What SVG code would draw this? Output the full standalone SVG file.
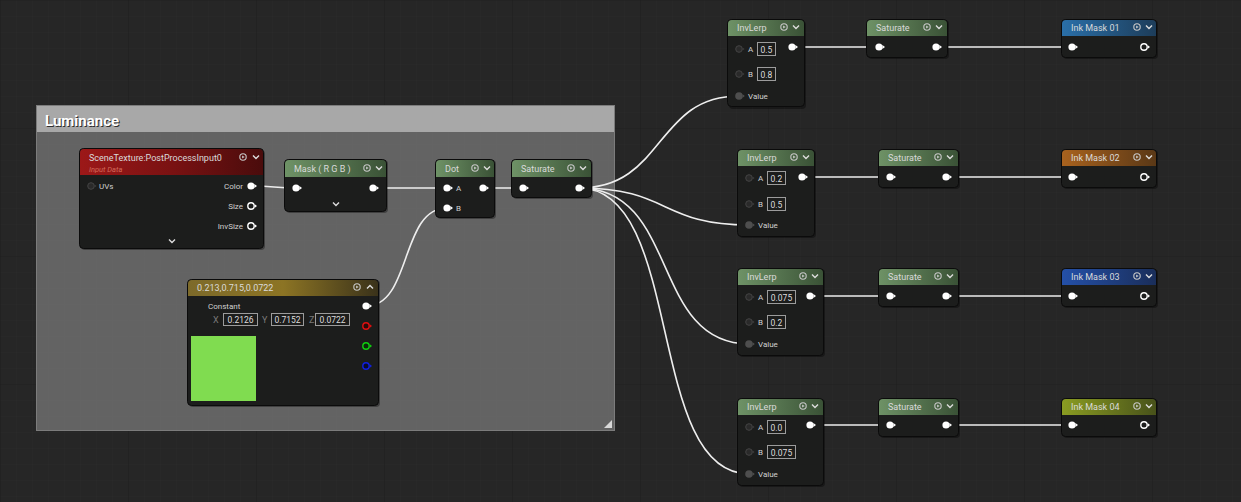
<svg xmlns="http://www.w3.org/2000/svg" width="1241" height="502" viewBox="0 0 1241 502">
<style>
.body{fill:#1c1d1c;stroke:#0b0b0b;stroke-width:1}
.shadow{fill:#000;opacity:.35}
.title{font-family:Roboto,"Liberation Sans",sans-serif;font-size:9px;fill:#dadada}
.lbl{font-family:Roboto,"Liberation Sans",sans-serif;font-size:8px;fill:#d0d0d0}
.val{font-family:Roboto,"Liberation Sans",sans-serif;font-size:8.5px;fill:#dcdcdc;text-anchor:middle}
.box{fill:none;stroke:#9c9c9c;stroke-width:1}
.wire{fill:none;stroke:#eeeeee;stroke-width:1.6}
.axis{font-family:Roboto,"Liberation Sans",sans-serif;font-size:9px;fill:#7a7a7a}
</style>
<defs>
<pattern id="grid" width="16" height="16" patternUnits="userSpaceOnUse">
<path d="M16,0 L0,0 L0,16" fill="none" stroke="#2a2a2a" stroke-width="1"/>
</pattern>
<pattern id="gridMajor" width="128" height="128" patternUnits="userSpaceOnUse">
<path d="M128,0 L0,0 L0,128" fill="none" stroke="#1e1e1e" stroke-width="1.2"/>
</pattern>
<linearGradient id="gGreen" x1="0" y1="0" x2="1" y2="0"><stop offset="0" stop-color="#6e9266"/><stop offset="1" stop-color="#3a5236"/></linearGradient>
<linearGradient id="gRed" x1="0" y1="0" x2="1" y2="0"><stop offset="0" stop-color="#9c1818"/><stop offset="0.5" stop-color="#7a1212"/><stop offset="1" stop-color="#4a0c0c"/></linearGradient>
<linearGradient id="gGold" x1="0" y1="0" x2="1" y2="0"><stop offset="0" stop-color="#7d6a2a"/><stop offset="0.5" stop-color="#8c7424"/><stop offset="1" stop-color="#3a321a"/></linearGradient>
<linearGradient id="gBlue1" x1="0" y1="0" x2="1" y2="0"><stop offset="0" stop-color="#2a6fa8"/><stop offset="1" stop-color="#1d3d5a"/></linearGradient>
<linearGradient id="gOrange" x1="0" y1="0" x2="1" y2="0"><stop offset="0" stop-color="#a8621e"/><stop offset="1" stop-color="#5a3816"/></linearGradient>
<linearGradient id="gBlue3" x1="0" y1="0" x2="1" y2="0"><stop offset="0" stop-color="#2450a8"/><stop offset="1" stop-color="#1a2e5a"/></linearGradient>
<linearGradient id="gOlive" x1="0" y1="0" x2="1" y2="0"><stop offset="0" stop-color="#8a9c22"/><stop offset="1" stop-color="#48521a"/></linearGradient>
<g id="pinW"><circle r="3.6" fill="#ffffff"/><path d="M3.4,-2 L6,0 L3.4,2Z" fill="#ffffff"/></g>
<g id="pinH"><circle r="3.2" fill="none" stroke="#ffffff" stroke-width="1.4"/><path d="M3.8,-1.8 L6,0 L3.8,1.8Z" fill="#ffffff"/></g>
<g id="pinD"><circle r="3.3" fill="#2a2a2a" stroke="#444" stroke-width="1"/><path d="M3.6,-1.6 L5.6,0 L3.6,1.6Z" fill="#3c3c3c"/></g>
<g id="pinV"><circle r="3.8" fill="#4e4e4e"/><path d="M3.6,-1.8 L5.8,0 L3.6,1.8Z" fill="#4e4e4e"/></g>
<g id="prev"><circle r="3.2" fill="none" stroke="#c8c8c8" stroke-width="1.1"/><path d="M-0.9,-1.6 L1.7,0 L-0.9,1.6Z" fill="#c8c8c8"/></g>
<path id="chev" d="M-3,-1.5 L0,1.5 L3,-1.5" fill="none" stroke="#dddddd" stroke-width="1.4"/>
<path id="chevUp" d="M-3,1.5 L0,-1.5 L3,1.5" fill="none" stroke="#dddddd" stroke-width="1.4"/>
</defs>

<rect width="1241" height="502" fill="#262626"/>
<rect width="1241" height="502" fill="url(#grid)"/>
<rect width="1241" height="502" fill="url(#gridMajor)"/>

<g id="comment-luminance">
<rect x="36.5" y="105.5" width="578" height="325" fill="#6a6a6a" fill-opacity="0.9" stroke="#7c7c7c"/>
<rect x="37" y="106" width="577" height="26" fill="#a8a8a8"/>
<text x="46" y="127" font-family="Roboto,'Liberation Sans',sans-serif" font-size="15" font-weight="bold" fill="#2e2e2e">Luminance</text>
<text x="45" y="126" font-family="Roboto,'Liberation Sans',sans-serif" font-size="15" font-weight="bold" fill="#ffffff">Luminance</text>
<path d="M612,420 L612,428 L604,428Z" fill="#d8d8d8"/>
</g>

<g id="connectors">
<path class="wire" d="M251,186 C272,186 276,188 296,188"/>
<path class="wire" d="M373,188 L447,188"/>
<path class="wire" d="M366,306 C412,306 400,208 447,208"/>
<path class="wire" d="M483,188 L523,188"/>
<path class="wire" d="M579,188 C665,188 655,96 739,96"/>
<path class="wire" d="M579,188 C670,188 660,225 749,225"/>
<path class="wire" d="M579,188 C680,188 650,344 749,344"/>
<path class="wire" d="M579,188 C685,188 645,474 749,474"/>
<path class="wire" d="M792,47 L879,47"/>
<path class="wire" d="M936,47 L1072,47"/>
<path class="wire" d="M802,177 L890,177"/>
<path class="wire" d="M946,177 L1072,177"/>
<path class="wire" d="M810,296 L890,296"/>
<path class="wire" d="M946,296 L1072,296"/>
<path class="wire" d="M810,425 L890,425"/>
<path class="wire" d="M946,425 L1072,425"/>
</g>

<g id="node-scenetexture">
<rect class="shadow" x="81" y="150" width="184" height="100" rx="4"/>
<rect class="body" x="79.5" y="148.5" width="184" height="100" rx="4"/>
<rect x="80" y="149" width="183" height="26" rx="4" fill="url(#gRed)"/>
<rect x="80" y="171" width="183" height="4" fill="url(#gRed)"/>
<text class="title" x="89" y="161" font-size="9.5">SceneTexture:PostProcessInput0</text>
<text x="89" y="171.5" font-family="Roboto,'Liberation Sans',sans-serif" font-size="7.5" font-style="italic" fill="#d26a5a">Input Data</text>
<use href="#prev" x="243" y="157"/>
<use href="#chev" x="256" y="157"/>
<use href="#pinD" x="91" y="186"/>
<text class="lbl" x="99" y="189">UVs</text>
<text class="lbl" x="243" y="189" text-anchor="end">Color</text>
<use href="#pinW" x="251" y="186"/>
<text class="lbl" x="243" y="209" text-anchor="end">Size</text>
<use href="#pinH" x="251" y="206"/>
<text class="lbl" x="243" y="229" text-anchor="end">InvSize</text>
<use href="#pinH" x="251" y="226"/>
<use href="#chev" x="172" y="241"/>
</g>

<g id="node-mask">
<rect class="shadow" x="286" y="160" width="102" height="53" rx="4"/>
<rect class="body" x="284.5" y="159.5" width="102" height="52" rx="4"/>
<rect x="285" y="160" width="101" height="17" rx="4" fill="url(#gGreen)"/>
<rect x="285" y="173" width="101" height="4" fill="url(#gGreen)"/>
<text class="title" x="294" y="172">Mask ( R G B )</text>
<use href="#prev" x="367" y="168"/>
<use href="#chev" x="379" y="168"/>
<use href="#pinW" x="296" y="188"/>
<use href="#pinW" x="373" y="188"/>
<use href="#chev" x="336" y="204"/>
</g>

<g id="node-dot">
<rect class="shadow" x="437" y="160" width="59" height="59" rx="4"/>
<rect class="body" x="435.5" y="159.5" width="59" height="58" rx="4"/>
<rect x="436" y="160" width="58" height="17" rx="4" fill="url(#gGreen)"/>
<rect x="436" y="173" width="58" height="4" fill="url(#gGreen)"/>
<text class="title" x="445" y="172">Dot</text>
<use href="#prev" x="475" y="168"/>
<use href="#chev" x="487" y="168"/>
<use href="#pinW" x="447" y="188"/>
<text class="lbl" x="456" y="191">A</text>
<use href="#pinW" x="483" y="188"/>
<use href="#pinW" x="447" y="208"/>
<text class="lbl" x="456" y="211">B</text>
</g>

<g id="node-saturate-main">
<rect class="shadow" x="513" y="160" width="80" height="39" rx="4"/>
<rect class="body" x="511.5" y="159.5" width="80" height="38" rx="4"/>
<rect x="512" y="160" width="79" height="17" rx="4" fill="url(#gGreen)"/>
<rect x="512" y="173" width="79" height="4" fill="url(#gGreen)"/>
<text class="title" x="521" y="172">Saturate</text>
<use href="#prev" x="571" y="168"/>
<use href="#chev" x="583" y="168"/>
<use href="#pinW" x="523" y="188"/>
<use href="#pinW" x="579" y="188"/>
</g>

<g id="node-constant">
<rect class="shadow" x="189" y="280" width="191" height="127" rx="4"/>
<rect class="body" x="187.5" y="279.5" width="191" height="126" rx="4"/>
<rect x="188" y="280" width="190" height="16" rx="4" fill="url(#gGold)"/>
<rect x="188" y="292" width="190" height="4" fill="url(#gGold)"/>
<text class="title" x="197" y="291">0.213,0.715,0.0722</text>
<use href="#prev" x="357" y="287"/>
<use href="#chevUp" x="370" y="287"/>
<text class="lbl" x="208" y="309">Constant</text>
<text class="axis" x="213" y="323">X</text>
<rect class="box" x="223.5" y="313.5" width="34" height="12"/>
<text class="val" x="240.5" y="323">0.2126</text>
<text class="axis" x="262" y="323">Y</text>
<rect class="box" x="271.5" y="313.5" width="32" height="12"/>
<text class="val" x="287.5" y="323">0.7152</text>
<text class="axis" x="309" y="323">Z</text>
<rect class="box" x="315.5" y="313.5" width="34" height="12"/>
<text class="val" x="332.5" y="323">0.0722</text>
<rect x="191" y="336" width="65" height="65" fill="#80dc50"/>
<use href="#pinW" x="366" y="306"/>
<g transform="translate(366,326)"><circle r="3.2" fill="#2a0a0a" stroke="#e01010" stroke-width="1.4"/><path d="M3.8,-1.8 L6,0 L3.8,1.8Z" fill="#e01010"/></g>
<g transform="translate(366,346)"><circle r="3.2" fill="#0a2a0a" stroke="#10d010" stroke-width="1.4"/><path d="M3.8,-1.8 L6,0 L3.8,1.8Z" fill="#10d010"/></g>
<g transform="translate(366,366)"><circle r="3.2" fill="#0a0a2a" stroke="#1020e0" stroke-width="1.4"/><path d="M3.8,-1.8 L6,0 L3.8,1.8Z" fill="#1020e0"/></g>
</g>

<g id="node-invlerp-1">
<rect class="shadow" x="729" y="21" width="77" height="88" rx="4"/>
<rect class="body" x="727.5" y="19.5" width="77" height="87" rx="4"/>
<rect x="728" y="20" width="76" height="16" rx="4" fill="url(#gGreen)"/>
<rect x="728" y="32" width="76" height="4" fill="url(#gGreen)"/>
<text class="title" x="737" y="31">InvLerp</text>
<use href="#prev" x="784" y="27"/>
<use href="#chev" x="796" y="27"/>
<use href="#pinD" x="739" y="49"/>
<text class="lbl" x="748" y="52">A</text>
<rect class="box" x="757.5" y="42.5" width="18" height="13"/>
<text class="val" x="766.5" y="52.5">0.5</text>
<use href="#pinD" x="739" y="74"/>
<text class="lbl" x="748" y="77">B</text>
<rect class="box" x="757.5" y="67.5" width="18" height="13"/>
<text class="val" x="766.5" y="77.5">0.8</text>
<use href="#pinV" x="739" y="96"/>
<text class="lbl" x="748" y="99">Value</text>
<use href="#pinW" x="792" y="47"/>
</g>

<g id="node-invlerp-2">
<rect class="shadow" x="739" y="150" width="77" height="88" rx="4"/>
<rect class="body" x="737.5" y="149.5" width="77" height="87" rx="4"/>
<rect x="738" y="150" width="76" height="16" rx="4" fill="url(#gGreen)"/>
<rect x="738" y="162" width="76" height="4" fill="url(#gGreen)"/>
<text class="title" x="747" y="161">InvLerp</text>
<use href="#prev" x="794" y="157"/>
<use href="#chev" x="806" y="157"/>
<use href="#pinD" x="749" y="178"/>
<text class="lbl" x="758" y="181">A</text>
<rect class="box" x="767.5" y="171.5" width="18" height="13"/>
<text class="val" x="776.5" y="181.5">0.2</text>
<use href="#pinD" x="749" y="204"/>
<text class="lbl" x="758" y="207">B</text>
<rect class="box" x="767.5" y="197.5" width="18" height="13"/>
<text class="val" x="776.5" y="207.5">0.5</text>
<use href="#pinV" x="749" y="225"/>
<text class="lbl" x="758" y="228">Value</text>
<use href="#pinW" x="802" y="177"/>
</g>

<g id="node-invlerp-3">
<rect class="shadow" x="739" y="269" width="86" height="88" rx="4"/>
<rect class="body" x="737.5" y="268.5" width="86" height="87" rx="4"/>
<rect x="738" y="269" width="85" height="16" rx="4" fill="url(#gGreen)"/>
<rect x="738" y="281" width="85" height="4" fill="url(#gGreen)"/>
<text class="title" x="747" y="280">InvLerp</text>
<use href="#prev" x="803" y="276"/>
<use href="#chev" x="815" y="276"/>
<use href="#pinD" x="749" y="297"/>
<text class="lbl" x="758" y="300">A</text>
<rect class="box" x="767.5" y="290.5" width="28" height="13"/>
<text class="val" x="781.5" y="300.5">0.075</text>
<use href="#pinD" x="749" y="322"/>
<text class="lbl" x="758" y="325">B</text>
<rect class="box" x="767.5" y="315.5" width="18" height="13"/>
<text class="val" x="776.5" y="325.5">0.2</text>
<use href="#pinV" x="749" y="344"/>
<text class="lbl" x="758" y="347">Value</text>
<use href="#pinW" x="810" y="296"/>
</g>

<g id="node-invlerp-4">
<rect class="shadow" x="739" y="399" width="86" height="88" rx="4"/>
<rect class="body" x="737.5" y="398.5" width="86" height="87" rx="4"/>
<rect x="738" y="399" width="85" height="16" rx="4" fill="url(#gGreen)"/>
<rect x="738" y="411" width="85" height="4" fill="url(#gGreen)"/>
<text class="title" x="747" y="410">InvLerp</text>
<use href="#prev" x="803" y="406"/>
<use href="#chev" x="815" y="406"/>
<use href="#pinD" x="749" y="427"/>
<text class="lbl" x="758" y="430">A</text>
<rect class="box" x="767.5" y="420.5" width="18" height="13"/>
<text class="val" x="776.5" y="430.5">0.0</text>
<use href="#pinD" x="749" y="452"/>
<text class="lbl" x="758" y="455">B</text>
<rect class="box" x="767.5" y="445.5" width="28" height="13"/>
<text class="val" x="781.5" y="455.5">0.075</text>
<use href="#pinV" x="749" y="474"/>
<text class="lbl" x="758" y="477">Value</text>
<use href="#pinW" x="810" y="425"/>
</g>

<g id="node-saturate-1">
<rect class="shadow" x="868" y="20" width="81" height="39" rx="4"/>
<rect class="body" x="866.5" y="19.5" width="81" height="38" rx="4"/>
<rect x="867" y="20" width="80" height="16" rx="4" fill="url(#gGreen)"/>
<rect x="867" y="32" width="80" height="4" fill="url(#gGreen)"/>
<text class="title" x="876" y="31">Saturate</text>
<use href="#prev" x="927" y="27"/>
<use href="#chev" x="939" y="27"/>
<use href="#pinW" x="879" y="47"/>
<use href="#pinW" x="936" y="47"/>
</g>

<g id="node-saturate-2">
<rect class="shadow" x="880" y="150" width="80" height="39" rx="4"/>
<rect class="body" x="878.5" y="149.5" width="80" height="38" rx="4"/>
<rect x="879" y="150" width="79" height="16" rx="4" fill="url(#gGreen)"/>
<rect x="879" y="162" width="79" height="4" fill="url(#gGreen)"/>
<text class="title" x="888" y="161">Saturate</text>
<use href="#prev" x="938" y="157"/>
<use href="#chev" x="950" y="157"/>
<use href="#pinW" x="890" y="177"/>
<use href="#pinW" x="946" y="177"/>
</g>

<g id="node-saturate-3">
<rect class="shadow" x="880" y="269" width="80" height="39" rx="4"/>
<rect class="body" x="878.5" y="268.5" width="80" height="38" rx="4"/>
<rect x="879" y="269" width="79" height="16" rx="4" fill="url(#gGreen)"/>
<rect x="879" y="281" width="79" height="4" fill="url(#gGreen)"/>
<text class="title" x="888" y="280">Saturate</text>
<use href="#prev" x="938" y="276"/>
<use href="#chev" x="950" y="276"/>
<use href="#pinW" x="890" y="296"/>
<use href="#pinW" x="946" y="296"/>
</g>

<g id="node-saturate-4">
<rect class="shadow" x="880" y="399" width="80" height="39" rx="4"/>
<rect class="body" x="878.5" y="398.5" width="80" height="38" rx="4"/>
<rect x="879" y="399" width="79" height="16" rx="4" fill="url(#gGreen)"/>
<rect x="879" y="411" width="79" height="4" fill="url(#gGreen)"/>
<text class="title" x="888" y="410">Saturate</text>
<use href="#prev" x="938" y="406"/>
<use href="#chev" x="950" y="406"/>
<use href="#pinW" x="890" y="425"/>
<use href="#pinW" x="946" y="425"/>
</g>

<g id="node-inkmask-01">
<rect class="shadow" x="1063" y="20" width="95" height="39" rx="4"/>
<rect class="body" x="1061.5" y="19.5" width="95" height="38" rx="4"/>
<rect x="1062" y="20" width="94" height="16" rx="4" fill="url(#gBlue1)"/>
<rect x="1062" y="32" width="94" height="4" fill="url(#gBlue1)"/>
<text class="title" x="1071" y="31">Ink Mask 01</text>
<use href="#prev" x="1137" y="27"/>
<use href="#chev" x="1149" y="27"/>
<use href="#pinW" x="1072" y="47"/>
<use href="#pinH" x="1144" y="47"/>
</g>

<g id="node-inkmask-02">
<rect class="shadow" x="1063" y="150" width="95" height="39" rx="4"/>
<rect class="body" x="1061.5" y="149.5" width="95" height="38" rx="4"/>
<rect x="1062" y="150" width="94" height="16" rx="4" fill="url(#gOrange)"/>
<rect x="1062" y="162" width="94" height="4" fill="url(#gOrange)"/>
<text class="title" x="1071" y="161">Ink Mask 02</text>
<use href="#prev" x="1137" y="157"/>
<use href="#chev" x="1149" y="157"/>
<use href="#pinW" x="1072" y="177"/>
<use href="#pinH" x="1144" y="177"/>
</g>

<g id="node-inkmask-03">
<rect class="shadow" x="1063" y="269" width="95" height="39" rx="4"/>
<rect class="body" x="1061.5" y="268.5" width="95" height="38" rx="4"/>
<rect x="1062" y="269" width="94" height="16" rx="4" fill="url(#gBlue3)"/>
<rect x="1062" y="281" width="94" height="4" fill="url(#gBlue3)"/>
<text class="title" x="1071" y="280">Ink Mask 03</text>
<use href="#prev" x="1137" y="276"/>
<use href="#chev" x="1149" y="276"/>
<use href="#pinW" x="1072" y="296"/>
<use href="#pinH" x="1144" y="296"/>
</g>

<g id="node-inkmask-04">
<rect class="shadow" x="1063" y="399" width="95" height="39" rx="4"/>
<rect class="body" x="1061.5" y="398.5" width="95" height="38" rx="4"/>
<rect x="1062" y="399" width="94" height="16" rx="4" fill="url(#gOlive)"/>
<rect x="1062" y="411" width="94" height="4" fill="url(#gOlive)"/>
<text class="title" x="1071" y="410">Ink Mask 04</text>
<use href="#prev" x="1137" y="406"/>
<use href="#chev" x="1149" y="406"/>
<use href="#pinW" x="1072" y="425"/>
<use href="#pinH" x="1144" y="425"/>
</g>
</svg>
